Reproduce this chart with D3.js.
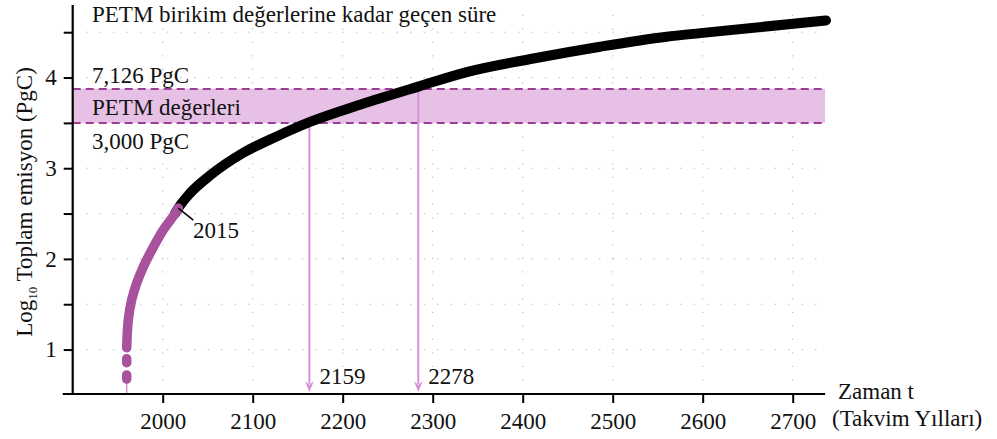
<!DOCTYPE html>
<html>
<head>
<meta charset="utf-8">
<script src="https://cdn.jsdelivr.net/npm/d3@7"></script>
<style>
  body { margin: 0; background: #fff; }
  text { font-family: "Liberation Serif", "Times New Roman", serif; fill: #111; }
</style>
</head>
<body>
<div id="chart"></div>
<script>
// historical part (purple), null breaks the line into pieces
var histYears  = [1960, 1960, 1960, 1960, 1960, 1960, 1960, 1961.8, 1965.6, 1971, 1978.4, 1989.6, 2000.7, 2013.7, 2017.3];
var histValues = [0.675, 0.72, null, 0.855, 0.90, null, 1.02, 1.33, 1.55, 1.73, 1.91, 2.13, 2.32, 2.50, 2.56];
// projection (black)
var projYears  = [2013.7, 2017.3, 2030, 2052.6, 2089.6, 2126.7, 2163.7, 2219.2, 2284, 2337.8, 2411.8, 2486, 2560, 2597.4, 2737];
var projValues = [2.50, 2.56, 2.72, 2.92, 3.17, 3.35, 3.51, 3.70, 3.90, 4.06, 4.21, 4.34, 4.45, 4.49, 4.63];

var bandLow = 3.5, bandHigh = 3.875;
var arrowYears  = [2163, 2284];
var arrowFrom   = [3.5, 3.875];
var arrowLabels = ["2159", "2278"];
var startYear = 1960, startValue = 0.675;

var xTicks = [2000, 2100, 2200, 2300, 2400, 2500, 2600, 2700];
var yTicks = [1, 1.5, 2, 2.5, 3, 3.5, 4, 4.5];
var yLabels = [1, 2, 3, 4];

var W = 997, H = 439, fs = 23;
var svg = d3.select("#chart").append("svg")
    .attr("width", W).attr("height", H);

var x = d3.scaleLinear().domain([1900, 2736]).range([72.7, 825.1]);
var y = d3.scaleLinear().domain([0.51, 4.8]).range([394, 5]);

var purple = "#a8529e", pink = "#d792d8";

// grid
svg.append("g").selectAll("line").data(yTicks).enter().append("line")
    .attr("x1", x.range()[0]).attr("x2", x.range()[1])
    .attr("y1", function(d) { return y(d); }).attr("y2", function(d) { return y(d); })
    .attr("stroke", "#b0b0b0").attr("stroke-dasharray", "1.2,12.3");
svg.append("g").selectAll("line").data(xTicks).enter().append("line")
    .attr("x1", function(d) { return x(d); }).attr("x2", function(d) { return x(d); })
    .attr("y1", y.range()[0]).attr("y2", y.range()[1])
    .attr("stroke", "#b0b0b0").attr("stroke-dasharray", "1.2,12.3");

// PETM band
svg.append("rect")
    .attr("x", x.range()[0]).attr("width", x.range()[1] - x.range()[0])
    .attr("y", y(bandHigh)).attr("height", y(bandLow) - y(bandHigh))
    .attr("fill", "#e7c1e5");
[bandLow, bandHigh].forEach(function(v) {
  svg.append("line")
    .attr("x1", x.range()[0]).attr("x2", x.range()[1])
    .attr("y1", y(v)).attr("y2", y(v))
    .attr("stroke", "#9b3c95").attr("stroke-width", 2)
    .attr("stroke-dasharray", "8,5");
});

// drop line under first point
svg.append("line")
    .attr("x1", x(startYear)).attr("x2", x(startYear))
    .attr("y1", y(startValue)).attr("y2", y.range()[0])
    .attr("stroke", pink).attr("stroke-width", 1.5);

// arrows
arrowYears.forEach(function(yr, i) {
  var ax = x(yr), tip = y.range()[0] - 2;
  svg.append("line")
    .attr("x1", ax).attr("x2", ax)
    .attr("y1", y(arrowFrom[i])).attr("y2", tip - 8)
    .attr("stroke", pink).attr("stroke-width", 2);
  svg.append("path")
    .attr("d", "M" + (ax - 4.5) + "," + (tip - 11) + "L" + ax + "," + tip + "L" + (ax + 4.5) + "," + (tip - 11) + "L" + ax + "," + (tip - 7) + "Z")
    .attr("fill", pink);
  svg.append("text")
    .attr("x", ax + 10).attr("y", 384)
    .attr("font-size", fs)
    .text(arrowLabels[i]);
});

// curve
var line = d3.line()
    .defined(function(d) { return d[1] != null; })
    .x(function(d) { return x(d[0]); })
    .y(function(d) { return y(d[1]); })
    .curve(d3.curveMonotoneY);

var projLine = d3.line()
    .x(function(d) { return x(d[0]); })
    .y(function(d) { return y(d[1]); })
    .curve(d3.curveMonotoneX);

svg.append("path")
    .datum(d3.zip(projYears, projValues))
    .attr("d", projLine)
    .attr("fill", "none").attr("stroke", "#000")
    .attr("stroke-width", 10).attr("stroke-linecap", "round");

svg.append("path")
    .datum(d3.zip(histYears, histValues))
    .attr("d", line)
    .attr("fill", "none").attr("stroke", purple)
    .attr("stroke-width", 9.5).attr("stroke-linecap", "round");

// 2015 label
var p15 = [x(2017.3), y(2.56)];
svg.append("line")
    .attr("x1", p15[0]).attr("y1", p15[1])
    .attr("x2", p15[0] + 15).attr("y2", p15[1] + 12)
    .attr("stroke", "#000").attr("stroke-width", 1.5);
svg.append("text")
    .attr("x", 193).attr("y", 238)
    .attr("font-size", fs)
    .text("2015");

// axes
var yAxis = svg.append("g")
    .attr("transform", "translate(" + x.range()[0] + ",0)")
    .call(d3.axisLeft(y).tickValues(yTicks).tickSize(9).tickPadding(7)
      .tickFormat(function(d) { return yLabels.indexOf(d) >= 0 ? d : ""; }));
yAxis.select(".domain").remove();
yAxis.selectAll("line").attr("stroke", "#000").attr("stroke-width", 2);
yAxis.selectAll("text").attr("font-size", fs).attr("fill", "#111");
svg.append("line")
    .attr("x1", x.range()[0]).attr("x2", x.range()[0])
    .attr("y1", y.range()[1]).attr("y2", y.range()[0])
    .attr("stroke", "#000").attr("stroke-width", 2.2);

var xAxis = svg.append("g")
    .attr("transform", "translate(0," + y.range()[0] + ")")
    .call(d3.axisBottom(x).tickValues(xTicks).tickSize(9).tickPadding(10).tickFormat(d3.format("d")));
xAxis.select(".domain").remove();
xAxis.selectAll("line").attr("stroke", "#000").attr("stroke-width", 2);
xAxis.selectAll("text").attr("font-size", fs).attr("fill", "#111");
svg.append("line")
    .attr("x1", x.range()[0] - 10).attr("x2", x.range()[1])
    .attr("y1", y.range()[0]).attr("y2", y.range()[0])
    .attr("stroke", "#000").attr("stroke-width", 2.2);

// texts
svg.append("text").attr("x", 92).attr("y", 22).attr("font-size", fs)
    .text("PETM birikim değerlerine kadar geçen süre");
svg.append("text").attr("x", 92).attr("y", 83).attr("font-size", fs)
    .text("7,126 PgC");
svg.append("text").attr("x", 92).attr("y", 115).attr("font-size", fs)
    .text("PETM değerleri");
svg.append("text").attr("x", 92).attr("y", 149).attr("font-size", fs)
    .text("3,000 PgC");

svg.append("text").attr("x", 838).attr("y", 399).attr("font-size", fs)
    .text("Zaman t");
svg.append("text").attr("x", 832).attr("y", 426).attr("font-size", fs)
    .text("(Takvim Yılları)");

var yl = svg.append("text")
    .attr("transform", "translate(32,202) rotate(-90)")
    .attr("text-anchor", "middle")
    .attr("font-size", fs);
yl.append("tspan").text("Log");
yl.append("tspan").attr("font-size", 13).attr("dy", 5).text("10");
yl.append("tspan").attr("dy", -5).text(" Toplam emisyon (PgC)");
</script>
</body>
</html>
